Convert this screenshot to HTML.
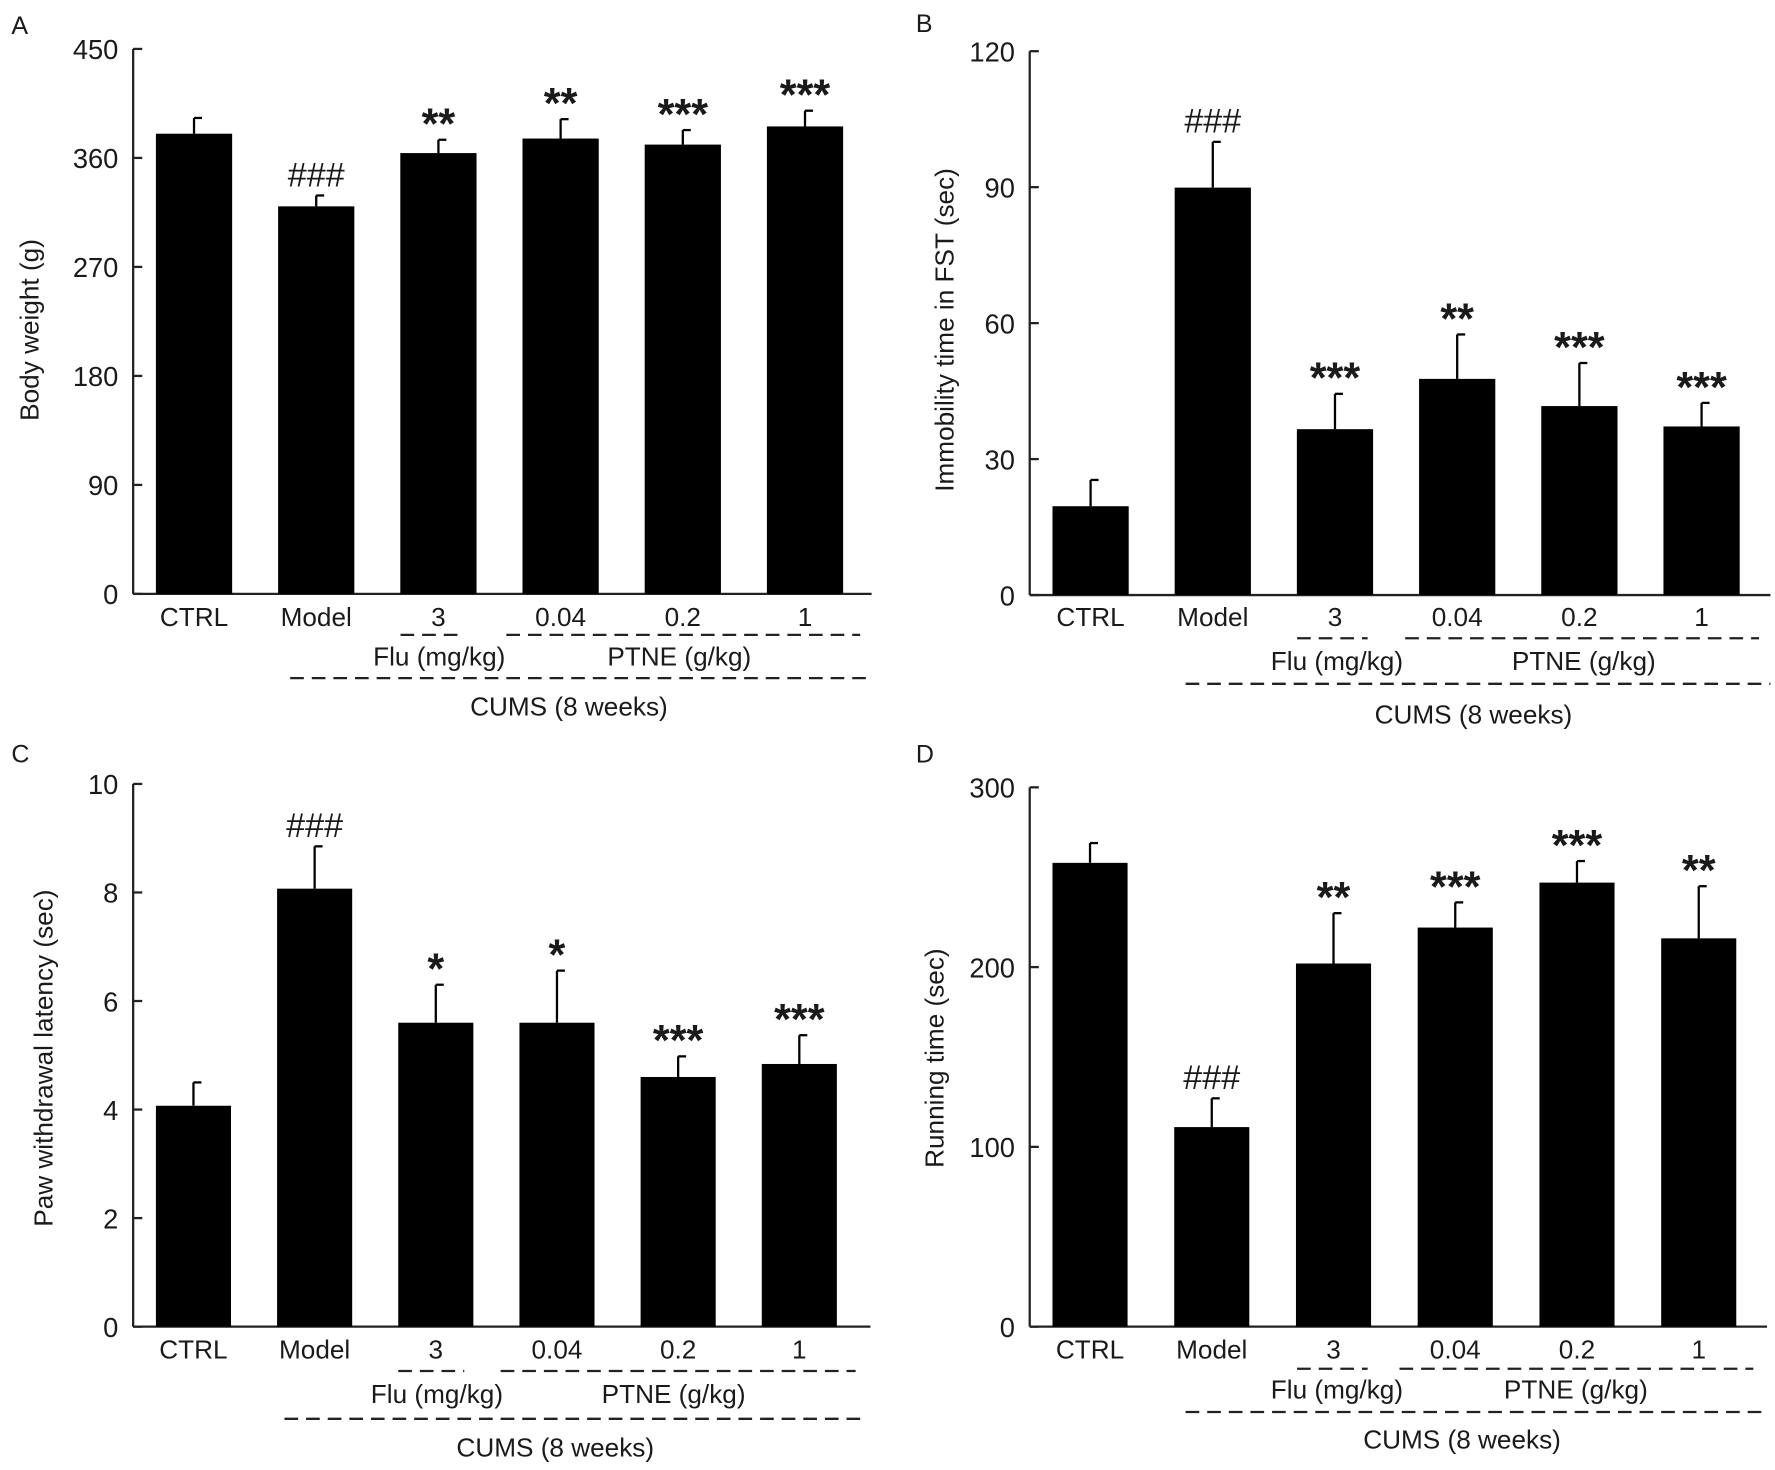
<!DOCTYPE html>
<html><head><meta charset="utf-8"><style>
html,body{margin:0;padding:0;background:#fff;}
svg{display:block;}
text{font-family:"Liberation Sans",sans-serif;fill:#1a1a1a;}
</style></head><body>
<svg id="fig" width="1775" height="1470" viewBox="0 0 1560 1292" xmlns="http://www.w3.org/2000/svg"></svg>
<script>
const categories = ["CTRL","Model","3","0.04","0.2","1"];
const valuesA = [380,320,364,376,371,386];
const errA = [13,9,11,16,12,13];
const marksA = ["","###","**","**","***","***"];
const ticksA = [0,90,180,270,360,450];
const valuesB = [19.6,89.9,36.6,47.7,41.7,37.2];
const errB = [5.8,10.1,7.8,9.8,9.5,5.2];
const marksB = ["","###","***","**","***","***"];
const ticksB = [0,30,60,90,120];
const valuesC = [4.07,8.07,5.6,5.6,4.6,4.84];
const errC = [0.43,0.78,0.7,0.96,0.38,0.53];
const marksC = ["","###","*","*","***","***"];
const ticksC = [0,2,4,6,8,10];
const valuesD = [258,111,202,222,247,216];
const errD = [11,16,28,14,12,29];
const marksD = ["","###","**","***","***","**"];
const ticksD = [0,100,200,300];

const svg = document.getElementById('fig');
const NS = "http://www.w3.org/2000/svg";
function mk(tag, attrs, parent){
  const e = document.createElementNS(NS, tag);
  for (const k in attrs) e.setAttribute(k, attrs[k]);
  (parent||svg).appendChild(e);
  return e;
}
function txt(x,y,s,size,anchor,parent,extra){
  const t = mk('text',Object.assign({x:x,y:y,'font-size':size,'text-anchor':anchor||'middle'},extra||{}),parent);
  t.textContent = s;
  return t;
}

function panel(cfg){
  const g = mk('g',{});
  
  
  const y = v => cfg.y0 - (v - cfg.min)/(cfg.max - cfg.min)*(cfg.y0 - cfg.yTop);
  const xc = i => cfg.x1 + cfg.barW/2 + i*cfg.pitch;
  const lt = txt(cfg.letterX, cfg.letterY, cfg.letter, 22, 'start', g);
  
  
  const ya = mk('line',{x1:cfg.ax,y1:cfg.yTop,x2:cfg.ax,y2:cfg.y0,stroke:'#222','stroke-width':2},g);
  
  
  const xa = mk('line',{x1:cfg.ax,y1:cfg.y0,x2:cfg.axEnd,y2:cfg.y0,stroke:'#222','stroke-width':2},g);
  
  
  cfg.ticks.forEach(t=>{
    const yy = y(t);
    mk('line',{x1:cfg.ax,y1:yy,x2:cfg.ax+8,y2:yy,stroke:'#222','stroke-width':2},g);
    const tl = txt(cfg.ax-13, yy+9, String(t), 24, 'end', g);
    
    
  });
  const yt = txt(0,0,cfg.ytitle,23,'middle',g,{transform:`translate(${cfg.ytx},${cfg.yty}) rotate(-90)`});
  
  
  categories.forEach((c,i)=>{
    const cx = xc(i);
    const v = cfg.values[i], e = cfg.err[i];
    const ey = y(v+e);
    const el = mk('line',{x1:cx,y1:ey,x2:cx,y2:y(v),stroke:'#000','stroke-width':2},g);
    
    
    mk('line',{x1:cx,y1:ey,x2:cx+7,y2:ey,stroke:'#000','stroke-width':2},g);
    const r = mk('rect',{x:cx-cfg.barW/2,y:y(v),width:cfg.barW,height:cfg.y0-y(v),fill:'#000'},g);
    
    
    const m = cfg.marks[i];
    if (m){
      let a;
      if (m[0]==='#') a = txt(cx, ey-8, m, 30, 'middle', g, {'font-family':'"Liberation Serif",serif'});
      else a = txt(cx, ey-1, m, 38, 'middle', g, {'font-weight':'bold'});
      
      
    }
    const cl = txt(cx, cfg.labY, c, 23, 'middle', g);
    
    
  });
  const dash = {stroke:'#222','stroke-width':2,'stroke-dasharray':'12,7'};
  mk('line',Object.assign({x1:cfg.d1[0],y1:cfg.dY,x2:cfg.d1[1],y2:cfg.dY},dash),g);
  mk('line',Object.assign({x1:cfg.d2[0],y1:cfg.dY,x2:cfg.d2[1],y2:cfg.dY},dash),g);
  mk('line',Object.assign({x1:cfg.d3[0],y1:cfg.d3Y,x2:cfg.d3[1],y2:cfg.d3Y},dash),g);
  const f = txt(cfg.fluX, cfg.grpY, 'Flu (mg/kg)', 23, 'middle', g);
  
  
  const p = txt(cfg.ptX, cfg.grpY, 'PTNE (g/kg)', 23, 'middle', g);
  
  
  const cu = txt(cfg.cuX, cfg.cuY, 'CUMS (8 weeks)', 23, 'middle', g);
  
  
}

panel({letter:'A',letterX:10,letterY:30,ax:117,axEnd:766,yTop:43,y0:522,min:0,max:450,ticks:ticksA,
  values:valuesA,err:errA,marks:marksA,x1:137,barW:67,pitch:107.4,ytitle:'Body weight (g)',ytx:34,yty:290,
  labY:550,dY:558,d1:[352,402],d2:[445,756],d3Y:596,d3:[255,768],fluX:386,ptX:597,grpY:585,cuX:500,cuY:629});
panel({letter:'B',letterX:805,letterY:28,ax:905,axEnd:1556,yTop:45,y0:523,min:0,max:120,ticks:ticksB,
  values:valuesB,err:errB,marks:marksB,x1:925,barW:67,pitch:107.4,ytitle:'Immobility time in FST (sec)',ytx:838,yty:290,
  labY:550,dY:561,d1:[1140,1202],d2:[1235,1546],d3Y:601,d3:[1042,1556],fluX:1175,ptX:1392,grpY:589,cuX:1295,cuY:636});
panel({letter:'C',letterX:10,letterY:670,ax:117,axEnd:765,yTop:689,y0:1166,min:0,max:10,ticks:ticksC,
  values:valuesC,err:errC,marks:marksC,x1:137,barW:66,pitch:106.5,ytitle:'Paw withdrawal latency (sec)',ytx:46,yty:930,
  labY:1194,dY:1205,d1:[350,408],d2:[440,752],d3Y:1247,d3:[250,762],fluX:384,ptX:592,grpY:1233,cuX:488,cuY:1280});
panel({letter:'D',letterX:805,letterY:670,ax:905,axEnd:1553,yTop:692,y0:1166,min:0,max:300,ticks:ticksD,
  values:valuesD,err:errD,marks:marksD,x1:925,barW:66,pitch:107,ytitle:'Running time (sec)',ytx:829,yty:930,
  labY:1194,dY:1203,d1:[1140,1202],d2:[1230,1541],d3Y:1241,d3:[1042,1553],fluX:1175,ptX:1385,grpY:1229,cuX:1285,cuY:1273});
</script>
</body></html>
